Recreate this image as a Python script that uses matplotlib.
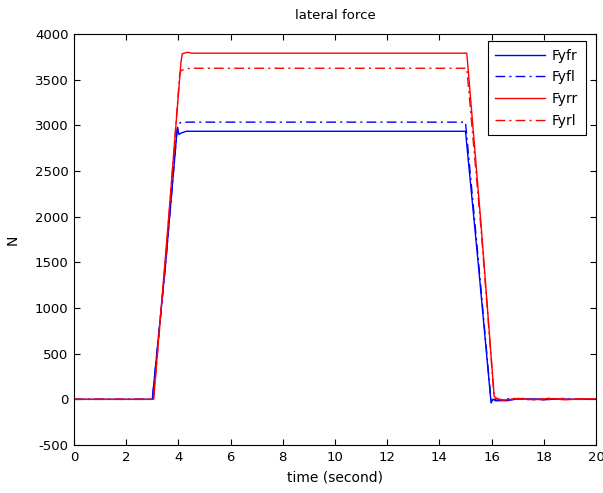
import matplotlib
matplotlib.use("Agg")
import matplotlib.pyplot as plt

# Data
t_fyfr = [0, 3.0, 3.5, 3.93, 3.97, 4.02, 4.1, 4.3, 15.0, 15.5, 15.98, 16.05, 16.15, 16.6, 17.0, 17.6, 18.0, 18.6, 19.2, 20]
v_fyfr = [0, 0, 1450, 2880, 2975, 2900, 2915, 2935, 2935, 1450, -40, 0, -15, -15, 5, 5, -5, 5, 0, 0]

t_fyfl = [0, 3.0, 3.5, 3.95, 4.0, 4.1, 4.2, 15.0, 15.5, 15.98, 16.05, 16.2, 16.8, 17.5, 18.2, 19.0, 20]
v_fyfl = [0, 0, 1450, 2950, 3020, 3030, 3035, 3035, 1500, -20, 5, -10, 10, -5, 10, 0, 0]

t_fyrr = [0, 3.05, 3.6, 4.1, 4.15, 4.35, 4.5, 15.05, 15.6, 16.1, 16.2, 16.4, 17.0, 17.6, 18.2, 18.8, 19.5, 20]
v_fyrr = [0, 0, 1900, 3700, 3785, 3800, 3790, 3790, 1900, 30, 10, -10, 10, -5, 10, -5, 5, 5]

t_fyrl = [0, 3.05, 3.6, 4.05, 4.1, 4.3, 4.5, 15.05, 15.6, 16.1, 16.2, 16.5, 17.2, 18.0, 18.8, 19.5, 20]
v_fyrl = [0, 0, 1850, 3560, 3600, 3620, 3625, 3625, 1850, 20, 5, -10, 10, -5, 10, 0, 0]

labels = ["Fyfr", "Fyfl", "Fyrr", "Fyrl"]
xticks = list(range(0, 21, 2))
yticks = list(range(-500, 4001, 500))

plt.rcParams['font.family'] = ['DejaVu Sans']
plt.rcParams['axes.unicode_minus'] = False
fig = plt.figure(figsize=(6.03, 4.93), dpi=100)
ax = fig.add_axes([74/603, 1 - 445/493, (596-74)/603, (445-34)/493])

dashdot = (0, (7, 3, 1.5, 3))
ax.plot(t_fyfr, v_fyfr, color='#0000ff', lw=1.0, ls='-', label=labels[0])
ax.plot(t_fyfl, v_fyfl, color='#0000ff', lw=1.0, ls=dashdot, label=labels[1])
ax.plot(t_fyrr, v_fyrr, color='#ff0000', lw=1.0, ls='-', label=labels[2])
ax.plot(t_fyrl, v_fyrl, color='#ff0000', lw=1.0, ls=dashdot, label=labels[3])

ax.set_xlim(0, 20)
ax.set_ylim(-500, 4000)
ax.set_xticks(xticks)
ax.set_yticks(yticks)
ax.tick_params(direction='in', top=True, right=True, length=4, width=0.8, labelsize=9.5, pad=4)
for s in ax.spines.values():
    s.set_linewidth(0.8)
    s.set_color('black')

ax.set_title("lateral force", fontsize=9.5, pad=11)
ax.set_xlabel("time (second)", fontsize=10, labelpad=5)
ax.set_ylabel("N", fontsize=10, labelpad=11)

leg = ax.legend(loc='upper right', bbox_to_anchor=(586/603, 1 - 41/493), bbox_transform=fig.transFigure,
                fancybox=False, framealpha=1, edgecolor='black', fontsize=10,
                handlelength=3.6, borderpad=0.55, labelspacing=0.55, handletextpad=0.5,
                borderaxespad=0)
leg.get_frame().set_linewidth(0.8)

fig.savefig("out.png", dpi=100)
